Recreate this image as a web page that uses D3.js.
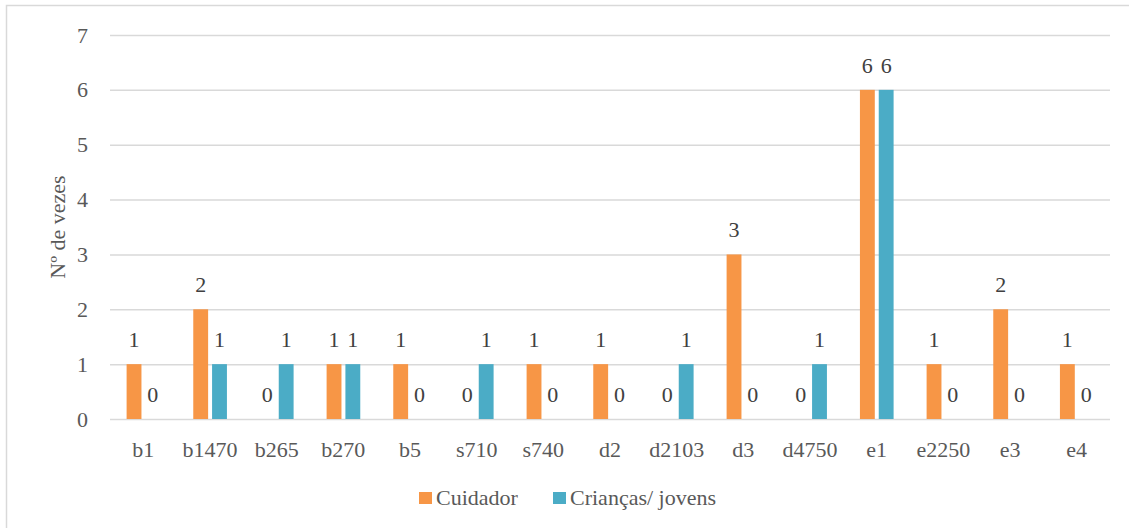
<!DOCTYPE html>
<html>
<head>
<meta charset="utf-8">
<script src="https://cdn.jsdelivr.net/npm/d3@7"></script>
</head>
<body style="margin:0">
<svg id="fig" width="1129" height="528"></svg>
<script>
// Categories (codes) and counts per group
const categories = ["b1", "b1470", "b265", "b270", "b5", "s710", "s740", "d2", "d2103", "d3", "d4750", "e1", "e2250", "e3", "e4"];
const cuidador   = [1, 2, 0, 1, 1, 0, 1, 1, 0, 3, 0, 6, 1, 2, 1];
const criancas   = [0, 1, 1, 1, 0, 1, 0, 0, 1, 0, 1, 6, 0, 0, 0];
const seriesNames = ["Cuidador", "Crianças/ jovens"];
const seriesColors = ["#F79646", "#4BACC6"];
const yTicks = [0, 1, 2, 3, 4, 5, 6, 7];

const seriesValues = [cuidador, criancas];
const svg = d3.select("#fig");
const plot = { left: 110, right: 1110, top: 35, bottom: 419 };
const textColor = "#595959";
const FONT = "'Liberation Serif'";
const fontSize = "22px";

function serif(sel) {
  return sel.style("font-family", FONT).style("font-size", fontSize);
}

// Outer frame
svg.append("rect")
  .attr("x", 6.5).attr("y", 5.5)
  .attr("width", 1140).attr("height", 540)
  .attr("fill", "#fff").attr("stroke", "#D9D9D9").attr("stroke-width", 1.5);

const x = d3.scaleBand().domain(categories).range([plot.left, plot.right]).padding(0);
const xs = d3.scaleBand().domain(seriesNames)
  .range([16.6, x.bandwidth() - 16.4])
  .paddingInner(0.21).paddingOuter(0);
const y = d3.scaleLinear().domain([0, 7]).range([plot.bottom, plot.top]);

// Horizontal gridlines with value ticks
const yAxis = d3.axisLeft(y).tickValues(yTicks).tickSize(-(plot.right - plot.left)).tickPadding(22).tickFormat(d3.format("d"));
const gy = svg.append("g").attr("transform", `translate(${plot.left},0)`).call(yAxis);
gy.attr("font-family", null).attr("font-size", null);
gy.select(".domain").remove();
gy.selectAll(".tick line").attr("stroke", "#D9D9D9").attr("stroke-width", 1.5);
serif(gy.selectAll(".tick text").attr("fill", textColor));

// Bars
const data = [];
categories.forEach((c, i) => {
  seriesNames.forEach((s, j) => data.push({ cat: c, series: s, value: seriesValues[j][i], color: seriesColors[j] }));
});

svg.append("g").selectAll("rect").data(data).join("rect")
  .attr("x", d => x(d.cat) + xs(d.series))
  .attr("y", d => y(d.value))
  .attr("width", xs.bandwidth())
  .attr("height", d => y(0) - y(d.value))
  .attr("fill", d => d.color);

// Value labels above each bar
serif(svg.append("g").selectAll("text").data(data).join("text")
  .attr("x", d => x(d.cat) + xs(d.series) + xs.bandwidth() / 2)
  .attr("y", d => y(d.value) - 17)
  .attr("text-anchor", "middle")
  .attr("fill", "#404040")
  .text(d => d.value));

// Category axis
const xAxis = d3.axisBottom(x).tickSize(0).tickPadding(22);
const gx = svg.append("g").attr("transform", `translate(0,${plot.bottom})`).call(xAxis);
gx.attr("font-family", null).attr("font-size", null);
gx.select(".domain").remove();
serif(gx.selectAll(".tick text").attr("fill", textColor));

// Y axis title
serif(svg.append("text")
  .attr("transform", `translate(65,${(plot.top + plot.bottom) / 2}) rotate(-90)`)
  .attr("text-anchor", "middle")
  .attr("fill", textColor)
  .text("Nº de vezes"));

// Legend
const legendItems = [
  { name: seriesNames[0], color: seriesColors[0], x: 419 },
  { name: seriesNames[1], color: seriesColors[1], x: 553 }
];
const lg = svg.append("g");
legendItems.forEach(item => {
  lg.append("rect").attr("x", item.x).attr("y", 492).attr("width", 13).attr("height", 12).attr("fill", item.color);
  serif(lg.append("text").attr("x", item.x + 17).attr("y", 505)
    .attr("fill", textColor)
    .text(item.name));
});
</script>
</body>
</html>
